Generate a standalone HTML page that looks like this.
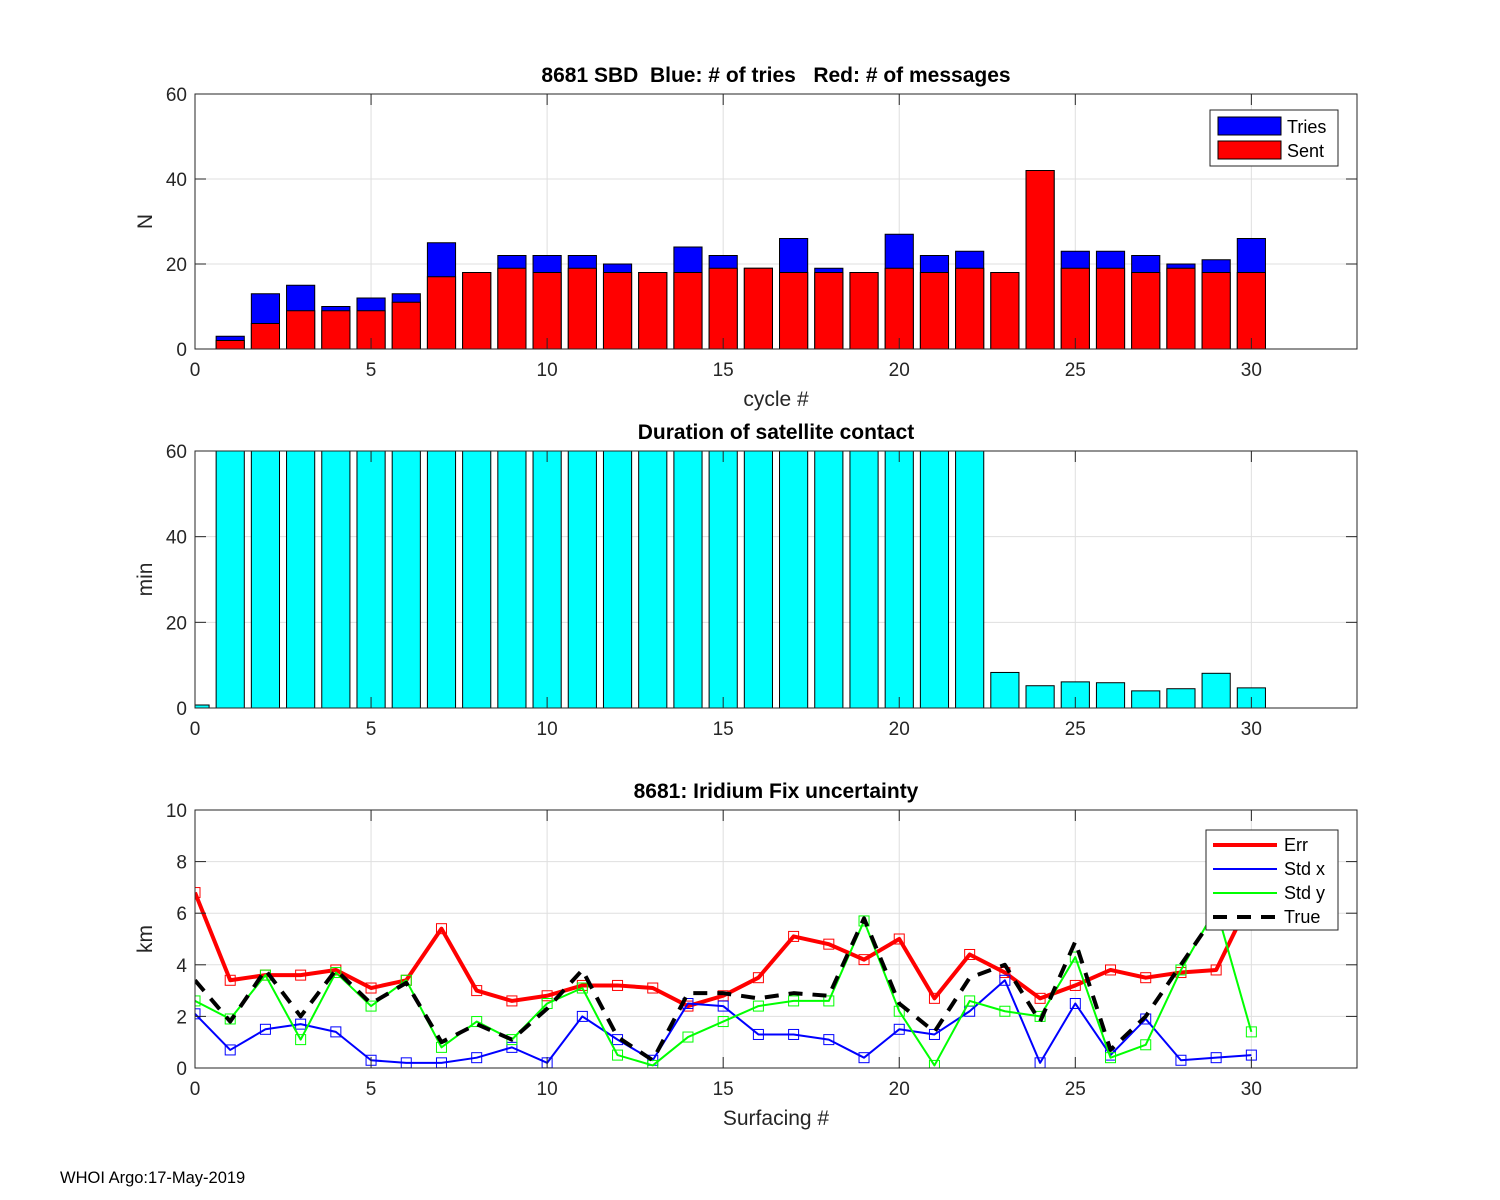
<!DOCTYPE html>
<html><head><meta charset="utf-8"><style>
body{margin:0;background:#fff}
svg{display:block;font-family:"Liberation Sans",Arial,sans-serif}
text{white-space:pre}
</style></head><body>
<svg id="fig" width="1500" height="1200" viewBox="0 0 1500 1200">
<rect width="1500" height="1200" fill="#fff"/>
<text x="60" y="1183" font-size="16.5">WHOI Argo:17-May-2019</text>
</svg>
<script>
const cycles=[1,2,3,4,5,6,7,8,9,10,11,12,13,14,15,16,17,18,19,20,21,22,23,24,25,26,27,28,29,30];
const tries=[3,13,15,10,12,13,25,18,22,22,22,20,18,24,22,19,26,19,18,27,22,23,18,42,23,23,22,20,21,26];
const sent=[2,6,9,9,9,11,17,18,19,18,19,18,18,18,19,19,18,18,18,19,18,19,18,42,19,19,18,19,18,18];
const durCycles=[0,1,2,3,4,5,6,7,8,9,10,11,12,13,14,15,16,17,18,19,20,21,22,23,24,25,26,27,28,29,30];
const duration=[0.7,75,75,75,75,75,75,75,75,75,75,75,75,75,75,75,75,75,75,75,75,75,75,8.3,5.2,6.1,5.9,4.0,4.5,8.1,4.7];
const surf=[0,1,2,3,4,5,6,7,8,9,10,11,12,13,14,15,16,17,18,19,20,21,22,23,24,25,26,27,28,29,30];
const errV=[6.8,3.4,3.6,3.6,3.8,3.1,3.4,5.4,3.0,2.6,2.8,3.2,3.2,3.1,2.4,2.8,3.5,5.1,4.8,4.2,5.0,2.7,4.4,3.7,2.7,3.2,3.8,3.5,3.7,3.8,6.6];
const stdX=[2.1,0.7,1.5,1.7,1.4,0.3,0.2,0.2,0.4,0.8,0.2,2.0,1.1,0.3,2.5,2.4,1.3,1.3,1.1,0.4,1.5,1.3,2.2,3.4,0.2,2.5,0.5,1.9,0.3,0.4,0.5];
const stdY=[2.6,1.9,3.6,1.1,3.7,2.4,3.4,0.8,1.8,1.1,2.5,3.1,0.5,0.1,1.2,1.8,2.4,2.6,2.6,5.7,2.2,0.1,2.6,2.2,2.0,4.3,0.4,0.9,3.8,6.2,1.4];
const trueV=[3.4,1.8,3.8,2.0,3.8,2.5,3.3,1.0,1.7,1.1,2.3,3.8,1.2,0.3,2.9,2.9,2.7,2.9,2.8,5.8,2.5,1.4,3.5,4.0,1.8,4.9,0.7,2.0,4.0,6.0,7.5];
const xTicks=[0,5,10,15,20,25,30];
const yTicks1=[0,20,40,60];
const yTicks3=[0,2,4,6,8,10];

const NS="http://www.w3.org/2000/svg";
const svg=document.getElementById('fig');
function el(tag,attrs,parent){const e=document.createElementNS(NS,tag);for(const k in attrs)e.setAttribute(k,attrs[k]);(parent||svg).appendChild(e);return e;}
const L=195,R=1357,XMAX=33;
function xs(v){return L+(R-L)*v/XMAX;}

function axes(top,bot,ymax,yt,name,grid){
  const g=el('g',{});
  
  
  const ys=v=>bot-(bot-top)*v/ymax;
  el('rect',{x:L,y:top,width:R-L,height:bot-top,fill:'#fff'},g);
  const clip=el('clipPath',{id:'c'+name},g);
  el('rect',{x:L,y:top,width:R-L,height:bot-top},clip);
  const gg=el('g',{},g);
  if(grid){
    xTicks.forEach(t=>el('line',{x1:xs(t),x2:xs(t),y1:top,y2:bot,stroke:'#dfdfdf','stroke-width':1},gg));
    yt.forEach(t=>el('line',{x1:L,x2:R,y1:ys(t),y2:ys(t),stroke:'#dfdfdf','stroke-width':1},gg));
  }
  const plot=el('g',{'clip-path':'url(#c'+name+')'},g);
  const front=el('g',{},g);
  return {g,plot,front,ys,top,bot};
}
function frame(a,yt,ylabel,xlabel,title){
  const f=a.front;
  el('rect',{x:L,y:a.top,width:R-L,height:a.bot-a.top,fill:'none',stroke:'#262626','stroke-width':1},f);
  xTicks.forEach(t=>{
    el('line',{x1:xs(t),x2:xs(t),y1:a.bot,y2:a.bot-11,stroke:'#262626'},f);
    el('line',{x1:xs(t),x2:xs(t),y1:a.top,y2:a.top+11,stroke:'#262626'},f);
    const tx=el('text',{x:xs(t),y:a.bot+27,'font-size':19,'text-anchor':'middle',fill:'#262626'},f);
    tx.textContent=t;
    
    
  });
  yt.forEach(t=>{
    el('line',{x1:L,x2:L+11,y1:a.ys(t),y2:a.ys(t),stroke:'#262626'},f);
    el('line',{x1:R,x2:R-11,y1:a.ys(t),y2:a.ys(t),stroke:'#262626'},f);
    const tx=el('text',{x:L-8,y:a.ys(t)+7,'font-size':19,'text-anchor':'end',fill:'#262626'},f);
    tx.textContent=t;
    
    
  });
  const cy=(a.top+a.bot)/2;
  const yl=el('text',{x:152,y:cy,'font-size':21,'text-anchor':'middle',fill:'#262626',transform:`rotate(-90 152 ${cy})`},f);
  yl.textContent=ylabel;
  
  
  if(xlabel){
    const xl=el('text',{x:776,y:a.bot+57,'font-size':21,'text-anchor':'middle',fill:'#262626'},f);
    xl.textContent=xlabel;
    
    
  }
  const ti=el('text',{x:776,y:a.top-12,'font-size':21,'font-weight':'bold','text-anchor':'middle',fill:'#000'},f);
  ti.textContent=title;
  
  
}

// Chart 1
const a1=axes(94,349,60,yTicks1,'sbd-chart',true);
cycles.forEach((c,i)=>{
  const w=(xs(0.8)-xs(0));
  const b=el('rect',{x:xs(c)-w/2,y:a1.ys(tries[i]),width:w,height:a1.ys(0)-a1.ys(tries[i]),fill:'#0000ff',stroke:'#000','stroke-width':1},a1.plot);
  
  
  const r=el('rect',{x:xs(c)-w/2,y:a1.ys(sent[i]),width:w,height:a1.ys(0)-a1.ys(sent[i]),fill:'#ff0000',stroke:'#000','stroke-width':1},a1.plot);
  
  
});
frame(a1,yTicks1,'N','cycle #','8681 SBD  Blue: # of tries   Red: # of messages');
const lg1=el('g',{});


el('rect',{x:1210,y:110,width:128,height:56,fill:'#fff',stroke:'#262626'},lg1);
el('rect',{x:1218,y:117,width:63,height:18,fill:'#0000ff',stroke:'#000'},lg1);
el('rect',{x:1218,y:141,width:63,height:18,fill:'#ff0000',stroke:'#000'},lg1);
let t=el('text',{x:1287,y:133,'font-size':18},lg1);t.textContent='Tries';
t=el('text',{x:1287,y:157,'font-size':18},lg1);t.textContent='Sent';

// Chart 2
const a2=axes(451,708,60,yTicks1,'duration-chart',true);
durCycles.forEach((c,i)=>{
  const w=(xs(0.8)-xs(0));
  const b=el('rect',{x:xs(c)-w/2,y:a2.ys(duration[i]),width:w,height:a2.ys(0)-a2.ys(duration[i]),fill:'#00ffff',stroke:'#000','stroke-width':1},a2.plot);
  
  
});
frame(a2,yTicks1,'min',null,'Duration of satellite contact');

// Chart 3
const a3=axes(810,1068,10,yTicks3,'fix-uncertainty-chart',true);
function series(vals,color,width,dash,marker,name){
  const pts=surf.map((s,i)=>xs(s)+','+a3.ys(vals[i])).join(' ');
  const p=el('polyline',{points:pts,fill:'none',stroke:color,'stroke-width':width,'stroke-linejoin':'round'},a3.plot);
  if(dash)p.setAttribute('stroke-dasharray',dash);
  
  
  if(marker){
    surf.forEach((s,i)=>{
      const m=el('rect',{x:xs(s)-5,y:a3.ys(vals[i])-5,width:10,height:10,fill:'none',stroke:color,'stroke-width':1},a3.plot);
      
      
    });
  }
}
series(errV,'#ff0000',4,null,true,'err');
series(stdX,'#0000ff',2,null,true,'std-x');
series(stdY,'#00ff00',2,null,true,'std-y');
series(trueV,'#000000',4,'14,10',false,'true');
frame(a3,yTicks3,'km','Surfacing #','8681: Iridium Fix uncertainty');
const lg3=el('g',{});


el('rect',{x:1206,y:830,width:132,height:100,fill:'#fff',stroke:'#262626'},lg3);
const ent=[['Err','#ff0000',4,null],['Std x','#0000ff',2,null],['Std y','#00ff00',2,null],['True','#000',4,'14,10']];
ent.forEach((e,i)=>{
  const y=845+i*24;
  const ln=el('line',{x1:1213,x2:1277,y1:y,y2:y,stroke:e[1],'stroke-width':e[2]},lg3);
  if(e[3])ln.setAttribute('stroke-dasharray',e[3]);
  const tx=el('text',{x:1284,y:y+6,'font-size':18},lg3);tx.textContent=e[0];
});
</script>
</body></html>
